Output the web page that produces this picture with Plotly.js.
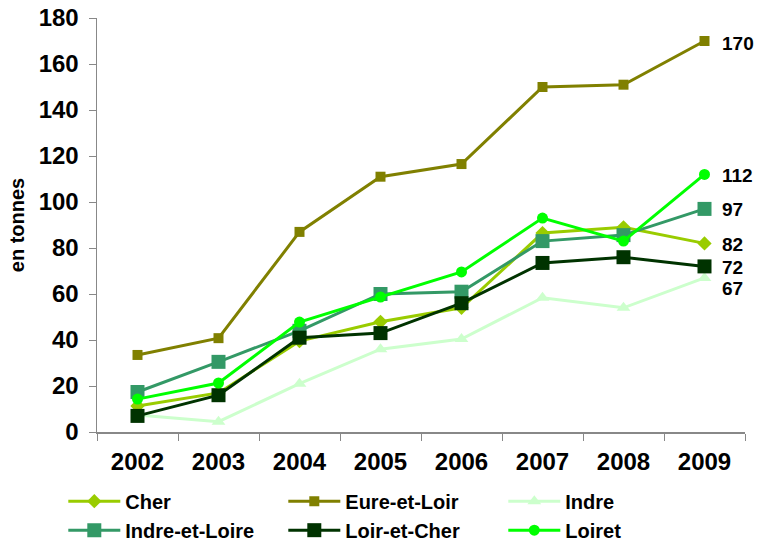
<!DOCTYPE html>
<html><head><meta charset="utf-8">
<script src="https://cdn.plot.ly/plotly-3.0.1.min.js"></script>
<style>body{margin:0;background:#fff}#c{width:762px;height:545px}</style>
</head><body><div id="c"></div>
<script>
const years = ['2002','2003','2004','2005','2006','2007','2008','2009'];
const cher = [11.3, 17, 39.5, 47.9, 54, 86.5, 89, 82];
const eureEtLoir = [33.5, 40.8, 87, 111, 116.5, 150, 151, 170];
const indre = [7.4, 4.5, 21, 36, 40.4, 58.4, 54, 67];
const indreEtLoire = [17.4, 30.5, 44, 60, 61, 83, 85.6, 97];
const loirEtCher = [7, 16, 41, 43, 56, 73.5, 76, 72];
const loiret = [14.3, 21.3, 47.8, 58.7, 69.6, 93, 83, 112];
const endLabels = ['82', '170', '67', '97', '72', '112'];

const series = [
  {name:'Cher', y:cher, color:'#99CC00', symbol:'diamond', size:11},
  {name:'Eure-et-Loir', y:eureEtLoir, color:'#808000', symbol:'square', size:10},
  {name:'Indre', y:indre, color:'#CCFFCC', symbol:'triangle-up', size:12},
  {name:'Indre-et-Loire', y:indreEtLoire, color:'#339966', symbol:'square', size:14},
  {name:'Loir-et-Cher', y:loirEtCher, color:'#003300', symbol:'square', size:14},
  {name:'Loiret', y:loiret, color:'#00FF00', symbol:'circle', size:11}
];
const yshifts = [-1, -2, -11, -1, -1, -1];

const traces = series.map(s => ({
  type:'scatter', mode:'lines+markers', name:s.name, x:years, y:s.y,
  line:{color:s.color, width:3}, marker:{color:s.color, symbol:s.symbol, size:s.size}
}));

const last = years.length - 1;
const annotations = series.map((s,i) => ({
  x: last, y: s.y[s.y.length-1], text: endLabels[i],
  xref:'x', yref:'y', showarrow:false, xanchor:'left', yanchor:'middle',
  xshift:15, yshift:yshifts[i],
  font:{family:'Liberation Sans, Arial', size:19, color:'#000', weight:'bold'}
}));

const layout = {
  width:762, height:545,
  margin:{l:97, r:17, t:18, b:113, autoexpand:false},
  paper_bgcolor:'#fff', plot_bgcolor:'#fff',
  font:{family:'Liberation Sans, Arial', color:'#000'},
  showlegend:true,
  legend:{orientation:'h', x:-0.052, xanchor:'left', y:-0.12, yanchor:'top',
    entrywidth:153, entrywidthmode:'pixels', itemwidth:52,
    font:{size:20, weight:'bold'}},
  xaxis:{type:'category', tickson:'boundaries', ticks:'outside', ticklen:7, tickcolor:'#888',
    showline:true, linecolor:'#888', linewidth:1.5, showgrid:false, zeroline:false,
    tickfont:{size:24, weight:'bold'}, ticklabelstandoff:8, range:[-0.5,7.5]},
  yaxis:{range:[0,180], dtick:20, ticks:'outside', ticklen:7, tickcolor:'#888',
    showline:true, linecolor:'#888', linewidth:1.5, showgrid:false, zeroline:false,
    tickfont:{size:24, weight:'bold'}, ticklabelstandoff:5,
    title:{text:'en tonnes', font:{size:20, weight:'bold'}, standoff:8}},
  annotations: annotations
};
Plotly.newPlot('c', traces, layout, {displayModeBar:false, staticPlot:true});
</script>
</body></html>
